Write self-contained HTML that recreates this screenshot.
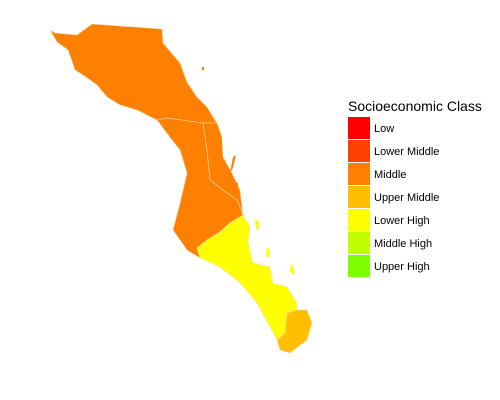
<!DOCTYPE html>
<html><head><meta charset="utf-8"><style>
body{margin:0;background:#fff}
svg{display:block;font-family:"Liberation Sans",sans-serif}
</style></head><body>
<svg id="c" width="500" height="400" viewBox="0 0 500 400">
<g id="map"></g>
<g id="legend">
<text x="348" y="111" font-size="14" fill="#000">Socioeconomic Class</text>
</g>
</svg>
<script>
const classes = ["Low","Lower Middle","Middle","Upper Middle","Lower High","Middle High","Upper High"];
const classColors = ["#FF0000","#FF4000","#FF8000","#FFBF00","#FFFF00","#BFFF00","#80FF00"];
const regionNames = ["mulege","comondu","loreto","la-paz","los-cabos"];
const regionClass = [2,2,2,4,3];
const regionPaths = [
"M50,30 L55,33 L77,35 L92,24 L162,29 L163,43 L180,63 L187,82 L197,97 L207,107 L215,120 L217,123 L215,123 L203,123 L167,118 L157,120 L137,110 L120,105 L107,97 L97,85 L83,75 L75,70 L68,50 L57,42 Z",
"M157,120 L167,118 L203,123 L207,150 L210,180 L227,193 L237,200 L240,207 L243,215 L230,223 L220,232 L207,240 L197,248 L200,258 L187,250 L173,230 L180,203 L187,173 L180,150 L172,140 Z",
"M203,123 L215,123 L217,123 L222,137 L223,157 L232,173 L240,190 L243,215 L240,207 L237,200 L227,193 L210,180 L207,150 Z",
"M243,215 L250,227 L248,243 L253,263 L270,267 L273,283 L287,287 L297,303 L297,310 L287,313 L285,333 L277,340 L270,327 L257,303 L240,283 L220,267 L200,258 L197,248 L207,240 L220,232 L230,223 Z",
"M297,310 L307,310 L312,323 L307,340 L290,353 L280,350 L277,340 L285,333 L287,313 Z"
];
const NS="http://www.w3.org/2000/svg";
const map=document.getElementById('map');
regionPaths.forEach((d,i)=>{
 const p=document.createElementNS(NS,'path');
 p.setAttribute('d',d);
 p.setAttribute('fill',classColors[regionClass[i]]);
 p.setAttribute('stroke','#f5e0b0');p.setAttribute('stroke-width','0.6');
 
 
 map.appendChild(p);
});
const islands=[["M233,157 L236,155 L233,168 L230,173 Z",2],["M255,219 L259,222 L259,230 L256,228 Z",4],["M267,247 L270,250 L269,258 L266,256 Z",4],["M291,264 L294,268 L294,275 L290,272 Z",4],["M202,67 L204,67 L204,70 L202,70Z",2],["M236,183 L238,183 L238,188 L236,188Z",2]];
islands.forEach((a,i)=>{
 const p=document.createElementNS(NS,'path');
 p.setAttribute('d',a[0]);p.setAttribute('fill',classColors[a[1]]);
 
 
 map.appendChild(p);
});
const lg=document.getElementById('legend');
classes.forEach((c,i)=>{
 const y=117+i*23;
 const r=document.createElementNS(NS,'rect');
 r.setAttribute('x',348);r.setAttribute('y',y);r.setAttribute('width',22);r.setAttribute('height',22);
 r.setAttribute('fill',classColors[i]);
 
 
 lg.appendChild(r);
 const t=document.createElementNS(NS,'text');
 t.setAttribute('x',374);t.setAttribute('y',y+15);t.setAttribute('font-size','11');
 t.textContent=c;
 
 
 lg.appendChild(t);
});
</script>
</body></html>
